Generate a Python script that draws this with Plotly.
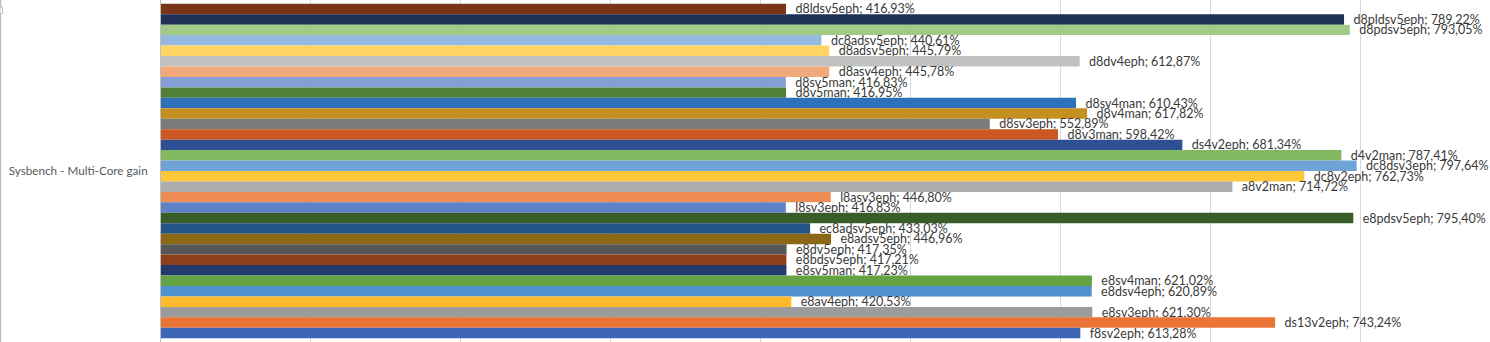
import plotly.graph_objects as go

# Benchmark category and the VM sizes shown as grouped bars (listed top to bottom)
category = ["Sysbench - Multi-Core gain"]

vm_names = [
    "d8ldsv5eph", "d8pldsv5eph", "d8pdsv5eph", "dc8adsv5eph", "d8adsv5eph",
    "d8dv4eph", "d8asv4eph", "d8sv5man", "d8v5man", "d8sv4man",
    "d8v4man", "d8sv3eph", "d8v3man", "ds4v2eph", "d4v2man",
    "dc8dsv3eph", "dc8v2eph", "a8v2man", "l8asv3eph", "l8sv3eph",
    "e8pdsv5eph", "ec8adsv5eph", "e8adsv5eph", "e8dv5eph", "e8bdsv5eph",
    "e8sv5man", "e8sv4man", "e8dsv4eph", "e8av4eph", "e8sv3eph",
    "ds13v2eph", "f8sv2eph",
]

gain_pct = [
    416.93, 789.22, 793.05, 440.61, 445.79,
    612.87, 445.78, 416.83, 416.95, 610.43,
    617.82, 552.89, 598.42, 681.34, 787.41,
    797.64, 762.73, 714.72, 446.80, 416.83,
    795.40, 433.03, 446.96, 417.35, 417.21,
    417.23, 621.02, 620.89, 420.53, 621.30,
    743.24, 613.28,
]

bar_colors = [
    "#7A3418", "#1E3056", "#A0CB86", "#95B9E0", "#FFD465",
    "#C2C2C2", "#F1A97C", "#849FD5", "#507F36", "#2E70B9",
    "#C49020", "#7B7B7B", "#CB5722", "#2E4F94", "#82B860",
    "#6FA3D6", "#FFC73A", "#ADADAD", "#EE8C54", "#5E82C7",
    "#385D28", "#245486", "#8B6816", "#575757", "#8F3F1A",
    "#223A6C", "#64A343", "#4F90CE", "#FFB92A", "#9C9C9C",
    "#EA7336", "#3E66B8",
]

FONT = "Lato"
WIDTH, HEIGHT = 1490, 342
LEFT = 161
PLOT_W = WIDTH - LEFT

fig = go.Figure()
for name, val, col in zip(vm_names, gain_pct, bar_colors):
    label = f"{name}; {val:.2f}%".replace(".", ",")
    fig.add_trace(go.Bar(
        y=category,
        x=[val],
        name=name,
        orientation="h",
        marker=dict(color=col, line=dict(width=0)),
        text=["\u00a0\u00a0" + label],
        textposition="outside",
        constraintext="none",
        cliponaxis=False,
        textfont=dict(family=FONT, size=12.5, color="#3A3A3A"),
    ))

fig.update_layout(
    width=WIDTH,
    height=HEIGHT,
    margin=dict(l=LEFT, r=0, t=0, b=0, pad=0),
    barmode="group",
    bargap=0.022,
    bargroupgap=0,
    showlegend=False,
    plot_bgcolor="white",
    paper_bgcolor="white",
    font=dict(family=FONT, size=12, color="#595959"),
    xaxis=dict(
        range=[0, PLOT_W / 1.499],
        dtick=100,
        showgrid=True,
        gridcolor="#D9D9D9",
        gridwidth=1,
        zeroline=False,
        showticklabels=False,
        ticks="",
        showline=False,
        fixedrange=True,
    ),
    yaxis=dict(
        range=[0.5, -0.5],
        showline=True,
        linecolor="#BFBFBF",
        linewidth=1,
        ticks="",
        ticklabelstandoff=10,
        tickfont=dict(family=FONT, size=11.7, color="#595959"),
        showgrid=False,
        zeroline=False,
        fixedrange=True,
    ),
    shapes=[
        # chart-area border on the left edge
        dict(type="line", xref="paper", yref="paper",
             x0=-(LEFT - 0.5) / PLOT_W, x1=-(LEFT - 0.5) / PLOT_W, y0=0, y1=1,
             line=dict(color="#BDBDBD", width=1.5)),
        # small resize handle on the border
        dict(type="rect", xref="paper", yref="paper",
             x0=-LEFT / PLOT_W, x1=-(LEFT - 2.5) / PLOT_W,
             y0=1 - 13.5 / HEIGHT, y1=1 - 7 / HEIGHT,
             fillcolor="white", line=dict(color="#BDBDBD", width=1)),
    ],
)

fig.write_html("out.html")
